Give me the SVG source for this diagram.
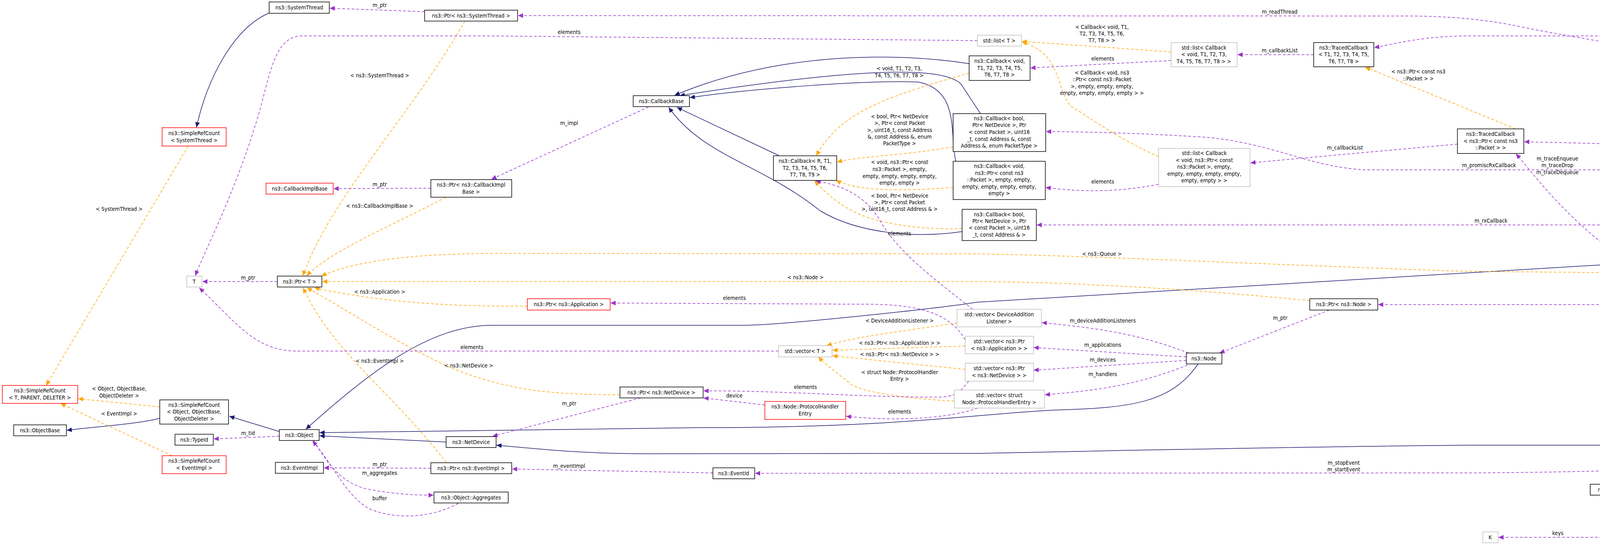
<svg xmlns="http://www.w3.org/2000/svg" width="5029" height="1411" viewBox="0 0 5029 1411">
<style>
text{font-family:"DejaVu Sans Condensed","DejaVu Sans",sans-serif;font-size:14px;fill:#000;text-anchor:middle}
.n rect{fill:#fff;stroke:#000;stroke-width:1.5}
.r rect{stroke:#ff0000}
.g rect{stroke:#bfbfbf}
.e rect{fill:#bfbfbf}
.u{fill:none;stroke:#9a32cd;stroke-width:1.5;stroke-dasharray:7,5;marker-end:url(#mu)}
.t{fill:none;stroke:#ffa500;stroke-width:1.5;stroke-dasharray:7,5;marker-end:url(#mt)}
.i{fill:none;stroke:#191970;stroke-width:1.5;marker-end:url(#mi)}
</style>
<defs>
<marker id="mu" markerUnits="userSpaceOnUse" markerWidth="14" markerHeight="12" refX="13" refY="6" orient="auto"><path d="M0,0 L13,6 L0,12 z" fill="#9a32cd"/></marker>
<marker id="mt" markerUnits="userSpaceOnUse" markerWidth="14" markerHeight="12" refX="13" refY="6" orient="auto"><path d="M0,0 L13,6 L0,12 z" fill="#ffa500"/></marker>
<marker id="mi" markerUnits="userSpaceOnUse" markerWidth="14" markerHeight="12" refX="13" refY="6" orient="auto"><path d="M0,0 L13,6 L0,12 z" fill="#191970"/></marker>
</defs>
<rect width="5029" height="1411" fill="#fff"/>
<g id="connectors">
<!-- inheritance -->
<path class="i" d="M690,33 C600,70 530,200 503,326"/>
<path class="i" d="M409,1071 C360,1085 250,1092 171,1102"/>
<path class="i" d="M715,1105 L587,1066"/>
<path class="i" d="M1142,1132 L818,1116"/>
<path class="i" d="M3067,932 C3000,1030 2900,1045 2700,1050 C2500,1060 2300,1095 1800,1095 L818,1108"/>
<path class="i" d="M4122,677 L2500,774 C2400,790 2000,833 1900,833 L1260,833 C1100,833 950,950 783,1099"/>
<path class="i" d="M4941,715 C4880,1000 4800,1140 4570,1140 L3760,1140 C3200,1145 2600,1160 2500,1161 L1660,1162 C1500,1162 1400,1152 1271,1140"/>
<path class="i" d="M2481,163 C2300,135 2000,130 1727,244"/>
<path class="i" d="M2510,291 L2460,215 C2420,175 2250,165 1740,245"/>
<path class="i" d="M2447,413 C2430,350 2460,230 2350,210 C2200,205 1900,230 1766,250"/>
<path class="i" d="M1993,398 L1733,275"/>
<path class="i" d="M2463,593 C2350,610 2200,600 2100,540 C1950,420 1800,400 1712,275"/>
<path class="i" d="M4523,1311 L4245,1314"/>
<!-- template -->
<path class="t" d="M1190,54 C1050,300 850,500 775,706"/>
<path class="t" d="M1141,505 C1000,580 850,640 785,706"/>
<path class="t" d="M4477,701 L3760,695 C3300,680 2800,655 2500,650 L1260,649 C1000,650 880,680 823,707"/>
<path class="t" d="M3353,770 C3000,735 2700,722 2500,721 L825,721"/>
<path class="t" d="M1350,784 C1200,785 1000,780 805,737"/>
<path class="t" d="M1143,1185 C1000,1000 850,900 776,737"/>
<path class="t" d="M1587,1011 C1400,1010 1300,1000 1150,940 C1000,870 900,800 786,737"/>
<path class="t" d="M2998,133 L2616,106"/>
<path class="t" d="M2966,401 C2850,350 2760,280 2741,272 C2700,220 2720,140 2616,107"/>
<path class="t" d="M2481,187 C2300,240 2150,280 2090,399"/>
<path class="t" d="M2440,376 C2300,400 2200,400 2143,415"/>
<path class="t" d="M2440,480 C2300,490 2200,490 2140,462"/>
<path class="t" d="M2463,585 C2350,590 2250,570 2198,548 C2140,520 2110,490 2085,463"/>
<path class="t" d="M2450,827 C2300,850 2200,860 2116,885"/>
<path class="t" d="M2471,886 L2131,897"/>
<path class="t" d="M2471,946 L2131,911"/>
<path class="t" d="M2443,1027 C2300,1020 2200,1000 2180,985 C2150,960 2120,940 2095,914"/>
<path class="t" d="M3880,330 L3495,172"/>
<path class="t" d="M482,374 L118,987"/>
<path class="t" d="M409,1042 L200,1021"/>
<path class="t" d="M440,1167 L155,1033"/>
<!-- usage -->
<path class="u" d="M1087,30 L844,21"/>
<path class="u" d="M4940,687 C4890,450 4800,300 4600,220 C4400,140 4200,130 3900,70 C3800,48 3700,41 3600,41 L1326,40"/>
<path class="u" d="M2502,104 L1250,92 L770,92 C700,95 690,200 660,300 C600,500 520,650 500,706"/>
<path class="u" d="M4945,687 C4930,400 4880,70 4750,69 C4700,69 4650,92 4580,92 L3760,92 C3650,92 3580,110 3518,122"/>
<path class="u" d="M4950,687 C4930,400 4870,130 4700,130 L4646,130"/>
<path class="u" d="M4930,687 C4900,550 4880,420 4840,410 C4600,380 4200,370 3902,363"/>
<path class="u" d="M4920,687 C4850,550 4700,435 4560,435 L3500,435 C3350,430 3250,360 3063,350 C2900,340 2750,337 2678,337"/>
<path class="u" d="M4910,687 C4800,600 4700,576 4560,576 L2654,576"/>
<path class="u" d="M4864,701 L4662,701"/>
<path class="u" d="M4477,694 L4223,679"/>
<path class="u" d="M4148,658 C4000,550 3930,450 3881,394"/>
<path class="u" d="M3731,369 L3201,417"/>
<path class="u" d="M3363,140 L3168,140"/>
<path class="u" d="M2998,155 L2638,174"/>
<path class="u" d="M2966,472 C2850,495 2750,490 2677,480"/>
<path class="u" d="M1660,274 L1258,459"/>
<path class="u" d="M1103,482 L854,483"/>
<path class="u" d="M710,721 L518,721"/>
<path class="u" d="M1993,899 L760,899 C650,899 600,820 510,737"/>
<path class="u" d="M2490,792 C2400,720 2300,650 2250,560 C2200,480 2120,470 2088,463"/>
<path class="u" d="M2471,870 C2430,800 2350,779 2214,779 L1563,776"/>
<path class="u" d="M2480,976 C2460,1000 2450,1017 2400,1017 C2200,1017 2000,1000 1801,1001"/>
<path class="u" d="M1958,1037 L1801,1019"/>
<path class="u" d="M2503,1045 C2400,1080 2250,1075 2166,1066"/>
<path class="u" d="M3043,904 C2900,850 2800,840 2667,826"/>
<path class="u" d="M3037,914 L2646,890"/>
<path class="u" d="M3037,923 L2646,948"/>
<path class="u" d="M3040,935 C2900,990 2800,1000 2675,1011"/>
<path class="u" d="M3403,794 L3122,904"/>
<path class="u" d="M4900,715 C4800,760 4700,780 4580,780 L3528,780"/>
<path class="u" d="M1640,1019 L1261,1117"/>
<path class="u" d="M1103,1199 L829,1198"/>
<path class="u" d="M1825,1211 L1311,1201"/>
<path class="u" d="M4945,715 C4920,950 4900,1130 4830,1162 C4600,1200 4000,1210 3760,1211 L1933,1212"/>
<path class="u" d="M804,1129 C840,1190 870,1230 930,1250 C1000,1265 1060,1268 1110,1268"/>
<path class="u" d="M1173,1289 C1100,1330 1000,1330 940,1300 C880,1260 860,1200 800,1129"/>
<path class="u" d="M715,1117 L547,1124"/>
<path class="u" d="M4940,715 C4900,950 4870,1200 4836,1230 C4780,1262 4700,1262 4645,1260"/>
<path class="u" d="M4272,1254 L4272,1254"/>
<path class="u" d="M4494,1254 L4272,1254"/>
<path class="u" d="M4942,715 C4900,1000 4870,1280 4828,1302 C4760,1335 4680,1330 4616,1323"/>
<path class="u" d="M4947,715 C4920,1050 4880,1360 4844,1375 C4780,1410 4680,1405 4614,1387"/>
<path class="u" d="M4524,1373 L4231,1375"/>
<path class="u" d="M4114,1376 L3836,1376"/>
</g>
<g id="edge-labels">
<text x="972" y="18">m_ptr</text>
<text x="972" y="198">&lt; ns3::SystemThread &gt;</text>
<text x="305" y="540">&lt; SystemThread &gt;</text>
<text x="972" y="477">m_ptr</text>
<text x="972" y="532">&lt; ns3::CallbackImplBase &gt;</text>
<text x="1457" y="87">elements</text>
<text x="635" y="716">m_ptr</text>
<text x="972" y="752">&lt; ns3::Application &gt;</text>
<text x="1208" y="894">elements</text>
<text x="972" y="929">&lt; ns3::EventImpl &gt;</text>
<text x="1200" y="941">&lt; ns3::NetDevice &gt;</text>
<text x="305" y="1000">&lt; Object, ObjectBase,</text>
<text x="305" y="1018">ObjectDeleter &gt;</text>
<text x="305" y="1064">&lt; EventImpl &gt;</text>
<text x="635" y="1114">m_tid</text>
<text x="972" y="1194">m_ptr</text>
<text x="972" y="1216">m_aggregates</text>
<text x="972" y="1281">buffer</text>
<text x="1457" y="320">m_impl</text>
<text x="2302" y="180">&lt; void, T1, T2, T3,</text>
<text x="2302" y="198">T4, T5, T6, T7, T8 &gt;</text>
<text x="2303" y="303">&lt; bool, Ptr&lt; NetDevice</text>
<text x="2303" y="320">&gt;, Ptr&lt; const Packet</text>
<text x="2303" y="338">&gt;, uint16_t, const Address</text>
<text x="2303" y="355">&amp;, const Address &amp;, enum</text>
<text x="2303" y="372">PacketType &gt;</text>
<text x="2303" y="420">&lt; void, ns3::Ptr&lt; const</text>
<text x="2303" y="438">ns3::Packet &gt;, empty,</text>
<text x="2303" y="456">empty, empty, empty, empty,</text>
<text x="2303" y="473">empty, empty &gt;</text>
<text x="2303" y="506">&lt; bool, Ptr&lt; NetDevice</text>
<text x="2303" y="523">&gt;, Ptr&lt; const Packet</text>
<text x="2303" y="540">&gt;, uint16_t, const Address &amp; &gt;</text>
<text x="2303" y="603">elements</text>
<text x="2062" y="715">&lt; ns3::Node &gt;</text>
<text x="3276" y="35">m_readThread</text>
<text x="2821" y="74">&lt; Callback&lt; void, T1,</text>
<text x="2821" y="91">T2, T3, T4, T5, T6,</text>
<text x="2821" y="108">T7, T8 &gt; &gt;</text>
<text x="3276" y="134">m_callbackList</text>
<text x="2823" y="155">elements</text>
<text x="2821" y="191">&lt; Callback&lt; void, ns3</text>
<text x="2821" y="208">::Ptr&lt; const ns3::Packet</text>
<text x="2821" y="226">&gt;, empty, empty, empty,</text>
<text x="2821" y="243">empty, empty, empty, empty &gt; &gt;</text>
<text x="3631" y="188">&lt; ns3::Ptr&lt; const ns3</text>
<text x="3631" y="206">::Packet &gt; &gt;</text>
<text x="3443" y="383">m_callbackList</text>
<text x="2823" y="470">elements</text>
<text x="2821" y="655">&lt; ns3::Queue &gt;</text>
<text x="3812" y="428">m_promiscRxCallback</text>
<text x="4173" y="86">m_linkChangeCallbacks</text>
<text x="4763" y="124">m_address</text>
<text x="4373" y="196">m_phyRxEndTrace</text>
<text x="4373" y="214">m_macPromiscRxTrace</text>
<text x="4373" y="231">m_phyTxEndTrace</text>
<text x="4373" y="248">m_macTxTrace</text>
<text x="4373" y="266">m_phyRxDropTrace</text>
<text x="4373" y="283">m_phyRxTrace</text>
<text x="4373" y="300">m_phyTxBeginTrace</text>
<text x="4373" y="318">m_macRxTrace</text>
<text x="4373" y="335">m_promiscSnifferTrace</text>
<text x="4373" y="352">m_phyTxDropTrace</text>
<text x="4373" y="371">...</text>
<text x="3987" y="411">m_traceEnqueue</text>
<text x="3987" y="428">m_traceDrop</text>
<text x="3987" y="446">m_traceDequeue</text>
<text x="3817" y="570">m_rxCallback</text>
<text x="4375" y="676">m_ptr</text>
<text x="4763" y="695">m_queue</text>
<text x="3277" y="819">m_ptr</text>
<text x="2823" y="826">m_deviceAdditionListeners</text>
<text x="2823" y="888">m_applications</text>
<text x="2823" y="926">m_devices</text>
<text x="2823" y="963">m_handlers</text>
<text x="3440" y="1190">m_stopEvent</text>
<text x="3440" y="1207">m_startEvent</text>
<text x="4173" y="774">m_node</text>
<text x="1880" y="768">elements</text>
<text x="2303" y="826">&lt; DeviceAdditionListener &gt;</text>
<text x="2303" y="883">&lt; ns3::Ptr&lt; ns3::Application &gt; &gt;</text>
<text x="2303" y="912">&lt; ns3::Ptr&lt; ns3::NetDevice &gt; &gt;</text>
<text x="2303" y="958">&lt; struct Node::ProtocolHandler</text>
<text x="2303" y="975">Entry &gt;</text>
<text x="2062" y="996">elements</text>
<text x="1880" y="1018">device</text>
<text x="1457" y="1038">m_ptr</text>
<text x="2303" y="1059">elements</text>
<text x="1457" y="1198">m_eventImpl</text>
<text x="4375" y="1249">m_priv</text>
<text x="4763" y="1232">m_pendingReadMutex</text>
<text x="4763" y="1279">m_deviceName</text>
<text x="3988" y="1370">keys</text>
<text x="4377" y="1366">g_markingTimes</text>
<text x="4763" y="1346">m_tStop</text>
<text x="4763" y="1363">m_tStart</text>
</g>
<g id="SystemThread" class="n"><rect x="689" y="5" width="154" height="29"/><text x="766" y="24">ns3::SystemThread</text></g>
<g id="PtrSystemThread" class="n"><rect x="1087" y="26" width="238" height="28"/><text x="1206" y="45">ns3::Ptr&lt; ns3::SystemThread &gt;</text></g>
<g id="SRCSystemThread" class="n r"><rect x="415" y="327" width="164" height="47"/><text x="497" y="346">ns3::SimpleRefCount</text><text x="497" y="364">&lt; SystemThread &gt;</text></g>
<g id="CallbackImplBase" class="n r"><rect x="681" y="469" width="172" height="28"/><text x="767" y="488">ns3::CallbackImplBase</text></g>
<g id="PtrCallbackImplBase" class="n"><rect x="1103" y="460" width="207" height="45"/><text x="1206" y="478">ns3::Ptr&lt; ns3::CallbackImpl</text><text x="1206" y="496">Base &gt;</text></g>
<g id="T" class="n g"><rect x="478" y="707" width="39" height="28"/><text x="497" y="726">T</text></g>
<g id="PtrT" class="n"><rect x="710" y="707" width="114" height="28"/><text x="767" y="726">ns3::Ptr&lt; T &gt;</text></g>
<g id="SRCTPD" class="n r"><rect x="6" y="987" width="193" height="46"/><text x="102" y="1005">ns3::SimpleRefCount</text><text x="102" y="1023">&lt; T, PARENT, DELETER &gt;</text></g>
<g id="SRCObject" class="n"><rect x="409" y="1024" width="176" height="62"/><text x="497" y="1042">ns3::SimpleRefCount</text><text x="497" y="1059">&lt; Object, ObjectBase,</text><text x="497" y="1077">ObjectDeleter &gt;</text></g>
<g id="ObjectBase" class="n"><rect x="35" y="1088" width="135" height="28"/><text x="102" y="1107">ns3::ObjectBase</text></g>
<g id="TypeId" class="n"><rect x="448" y="1112" width="98" height="28"/><text x="497" y="1131">ns3::TypeId</text></g>
<g id="Object" class="n"><rect x="715" y="1100" width="102" height="28"/><text x="766" y="1119">ns3::Object</text></g>
<g id="NetDevice" class="n"><rect x="1142" y="1118" width="128" height="28"/><text x="1206" y="1137">ns3::NetDevice</text></g>
<g id="SRCEventImpl" class="n r"><rect x="415" y="1167" width="164" height="46"/><text x="497" y="1185">ns3::SimpleRefCount</text><text x="497" y="1203">&lt; EventImpl &gt;</text></g>
<g id="EventImpl" class="n"><rect x="705" y="1184" width="123" height="28"/><text x="766" y="1203">ns3::EventImpl</text></g>
<g id="PtrEventImpl" class="n"><rect x="1103" y="1185" width="207" height="28"/><text x="1206" y="1204">ns3::Ptr&lt; ns3::EventImpl &gt;</text></g>
<g id="Aggregates" class="n"><rect x="1111" y="1260" width="190" height="28"/><text x="1206" y="1279">ns3::Object::Aggregates</text></g>
<g id="CallbackBase" class="n"><rect x="1621" y="245" width="144" height="28"/><text x="1693" y="264">ns3::CallbackBase</text></g>
<g id="CallbackR" class="n"><rect x="1980" y="399" width="162" height="63"/><text x="2061" y="417">ns3::Callback&lt; R, T1,</text><text x="2061" y="435">T2, T3, T4, T5, T6,</text><text x="2061" y="452">T7, T8, T9 &gt;</text></g>
<g id="PtrApplication" class="n r"><rect x="1350" y="765" width="212" height="29"/><text x="1456" y="784">ns3::Ptr&lt; ns3::Application &gt;</text></g>
<g id="VectorT" class="n g"><rect x="1993" y="885" width="137" height="29"/><text x="2061" y="904">std::vector&lt; T &gt;</text></g>
<g id="PtrNetDevice" class="n"><rect x="1587" y="991" width="213" height="28"/><text x="1693" y="1010">ns3::Ptr&lt; ns3::NetDevice &gt;</text></g>
<g id="ProtocolHandlerEntry" class="n r"><rect x="1958" y="1028" width="207" height="46"/><text x="2061" y="1046">ns3::Node::ProtocolHandler</text><text x="2061" y="1064">Entry</text></g>
<g id="EventId" class="n"><rect x="1825" y="1198" width="107" height="28"/><text x="1878" y="1217">ns3::EventId</text></g>
<g id="ListT" class="n g"><rect x="2502" y="90" width="113" height="28"/><text x="2558" y="109">std::list&lt; T &gt;</text></g>
<g id="CbVoidT" class="n"><rect x="2481" y="143" width="156" height="63"/><text x="2559" y="161">ns3::Callback&lt; void,</text><text x="2559" y="179">T1, T2, T3, T4, T5,</text><text x="2559" y="196">T6, T7, T8 &gt;</text></g>
<g id="CbBoolPT" class="n"><rect x="2440" y="291" width="237" height="97"/><text x="2558" y="308">ns3::Callback&lt; bool,</text><text x="2558" y="325">Ptr&lt; NetDevice &gt;, Ptr</text><text x="2558" y="343">&lt; const Packet &gt;, uint16</text><text x="2558" y="361">_t, const Address &amp;, const</text><text x="2558" y="378">Address &amp;, enum PacketType &gt;</text></g>
<g id="CbVoidPkt" class="n"><rect x="2440" y="413" width="236" height="98"/><text x="2558" y="430">ns3::Callback&lt; void,</text><text x="2558" y="448">ns3::Ptr&lt; const ns3</text><text x="2558" y="465">::Packet &gt;, empty, empty,</text><text x="2558" y="483">empty, empty, empty, empty,</text><text x="2558" y="500">empty &gt;</text></g>
<g id="CbBoolAddr" class="n"><rect x="2463" y="536" width="190" height="80"/><text x="2558" y="554">ns3::Callback&lt; bool,</text><text x="2558" y="571">Ptr&lt; NetDevice &gt;, Ptr</text><text x="2558" y="588">&lt; const Packet &gt;, uint16</text><text x="2558" y="606">_t, const Address &amp; &gt;</text></g>
<g id="ListCbVoidT" class="n g"><rect x="2998" y="109" width="169" height="62"/><text x="3082" y="127">std::list&lt; Callback</text><text x="3082" y="144">&lt; void, T1, T2, T3,</text><text x="3082" y="162">T4, T5, T6, T7, T8 &gt; &gt;</text></g>
<g id="TracedT" class="n"><rect x="3363" y="109" width="154" height="62"/><text x="3440" y="127">ns3::TracedCallback</text><text x="3440" y="144">&lt; T1, T2, T3, T4, T5,</text><text x="3440" y="162">T6, T7, T8 &gt;</text></g>
<g id="ListCbVoidPkt" class="n g"><rect x="2966" y="380" width="234" height="98"/><text x="3083" y="397">std::list&lt; Callback</text><text x="3083" y="415">&lt; void, ns3::Ptr&lt; const</text><text x="3083" y="432">ns3::Packet &gt;, empty,</text><text x="3083" y="450">empty, empty, empty, empty,</text><text x="3083" y="467">empty, empty &gt; &gt;</text></g>
<g id="TracedPkt" class="n"><rect x="3731" y="330" width="170" height="63"/><text x="3816" y="348">ns3::TracedCallback</text><text x="3816" y="366">&lt; ns3::Ptr&lt; const ns3</text><text x="3816" y="383">::Packet &gt; &gt;</text></g>
<g id="VecDAL" class="n g"><rect x="2450" y="792" width="216" height="45"/><text x="2558" y="810">std::vector&lt; DeviceAddition</text><text x="2558" y="828">Listener &gt;</text></g>
<g id="VecApp" class="n g"><rect x="2471" y="861" width="175" height="45"/><text x="2558" y="879">std::vector&lt; ns3::Ptr</text><text x="2558" y="897">&lt; ns3::Application &gt; &gt;</text></g>
<g id="VecND" class="n g"><rect x="2471" y="930" width="175" height="46"/><text x="2558" y="948">std::vector&lt; ns3::Ptr</text><text x="2558" y="966">&lt; ns3::NetDevice &gt; &gt;</text></g>
<g id="VecPHE" class="n g"><rect x="2443" y="999" width="231" height="46"/><text x="2558" y="1017">std::vector&lt; struct</text><text x="2558" y="1035">Node::ProtocolHandlerEntry &gt;</text></g>
<g id="PtrNode" class="n"><rect x="3353" y="765" width="174" height="29"/><text x="3440" y="784">ns3::Ptr&lt; ns3::Node &gt;</text></g>
<g id="Node" class="n"><rect x="3037" y="904" width="91" height="28"/><text x="3082" y="923">ns3::Node</text></g>
<g id="Mac48Address" class="n"><rect x="4493" y="130" width="152" height="28"/><text x="4569" y="149">ns3::Mac48Address</text></g>
<g id="Queue" class="n"><rect x="4122" y="659" width="100" height="28"/><text x="4172" y="678">ns3::Queue</text></g>
<g id="PtrQueue" class="n"><rect x="4477" y="687" width="184" height="28"/><text x="4569" y="706">ns3::Ptr&lt; ns3::Queue &gt;</text></g>
<g id="EmuNetDevice" class="n e"><rect x="4864" y="687" width="159" height="28"/><text x="4943" y="706">ns3::EmuNetDevice</text></g>
<g id="SystemMutexPrivate" class="n"><rect x="4071" y="1240" width="200" height="28"/><text x="4171" y="1259">ns3::SystemMutexPrivate</text></g>
<g id="SystemMutex" class="n"><rect x="4494" y="1240" width="150" height="28"/><text x="4569" y="1259">ns3::SystemMutex</text></g>
<g id="BasicString" class="n g"><rect x="4100" y="1292" width="144" height="46"/><text x="4172" y="1310">std::basic_string&lt;</text><text x="4172" y="1328">char &gt;</text></g>
<g id="String" class="n g"><rect x="4523" y="1297" width="92" height="28"/><text x="4569" y="1316">std::string</text></g>
<g id="K" class="n g"><rect x="3796" y="1362" width="39" height="28"/><text x="3815" y="1381">K</text></g>
<g id="SetK" class="n g"><rect x="4114" y="1362" width="116" height="28"/><text x="4172" y="1381">std::set&lt; K &gt;</text></g>
<g id="Time" class="n"><rect x="4524" y="1357" width="89" height="29"/><text x="4568" y="1376">ns3::Time</text></g>
</svg>
